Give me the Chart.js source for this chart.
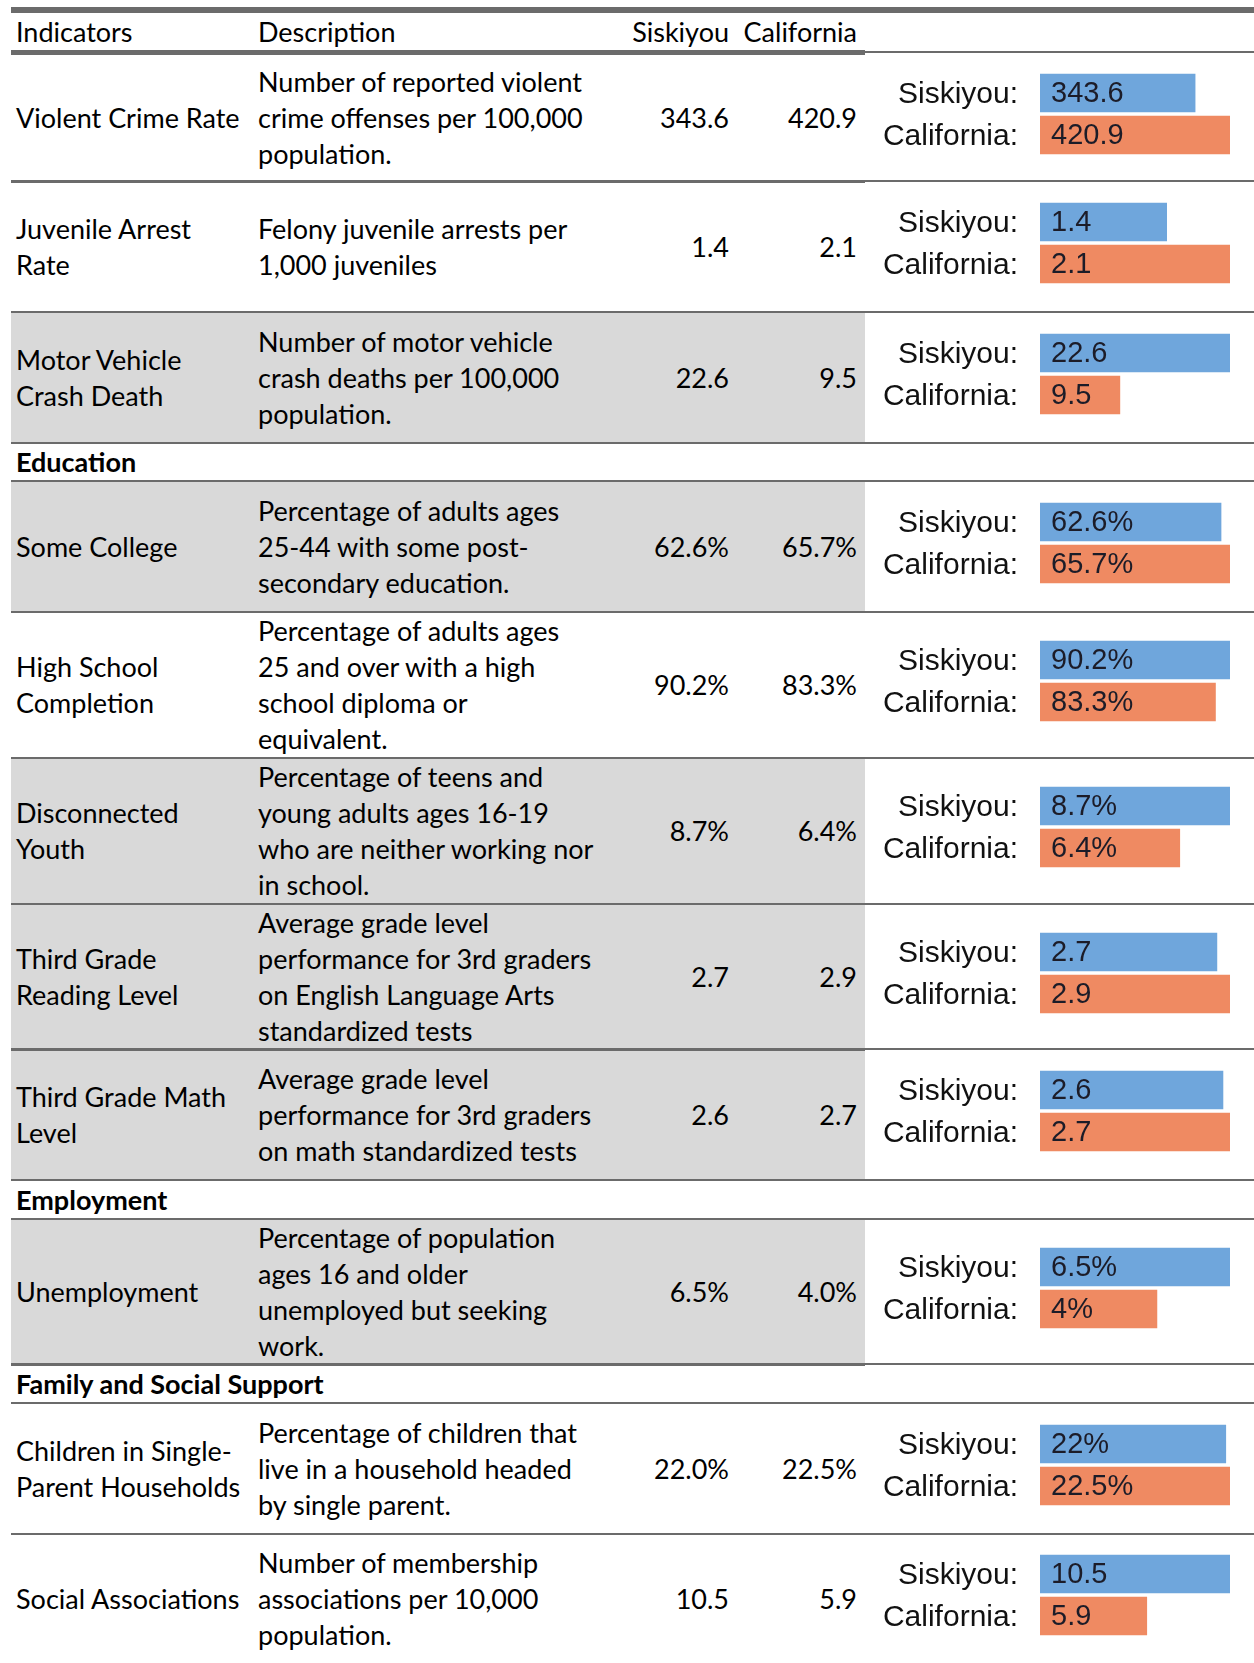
<!DOCTYPE html>
<html>
<head>
<meta charset="utf-8">
<script src="https://cdn.jsdelivr.net/npm/chart.js@4.4.0/dist/chart.umd.min.js"></script>
<style>
  html, body { margin: 0; padding: 0; background: #fff; }
  body { width: 1254px; height: 1663px; position: relative; overflow: hidden;
         font-family: Lato, "Liberation Sans", sans-serif; font-size: 27px; color: #000; }
  .cell { position: absolute; display: flex; flex-direction: column; justify-content: center;
          line-height: 36px; white-space: pre; }
  .num { text-align: right; }
  .line { position: absolute; background: #6b6b6b; }
  .shade { position: absolute; background: #d9d9d9; }
  canvas { position: absolute; }
</style>
</head>
<body>
<script>
// ---- data ----
const columnHeaders = ["Indicators", "Description", "Siskiyou", "California"];
const seriesLabels = ["Siskiyou:", "California:"];

const indicators = [
    "Violent Crime Rate",
    "Juvenile Arrest\nRate",
    "Motor Vehicle\nCrash Death",
    "Some College",
    "High School\nCompletion",
    "Disconnected\nYouth",
    "Third Grade\nReading Level",
    "Third Grade Math\nLevel",
    "Unemployment",
    "Children in Single-\nParent Households",
    "Social Associations"
];

const descriptions = [
    "Number of reported violent\ncrime offenses per 100,000\npopulation.",
    "Felony juvenile arrests per\n1,000 juveniles",
    "Number of motor vehicle\ncrash deaths per 100,000\npopulation.",
    "Percentage of adults ages\n25-44 with some post-\nsecondary education.",
    "Percentage of adults ages\n25 and over with a high\nschool diploma or\nequivalent.",
    "Percentage of teens and\nyoung adults ages 16-19\nwho are neither working nor\nin school.",
    "Average grade level\nperformance for 3rd graders\non English Language Arts\nstandardized tests",
    "Average grade level\nperformance for 3rd graders\non math standardized tests",
    "Percentage of population\nages 16 and older\nunemployed but seeking\nwork.",
    "Percentage of children that\nlive in a household headed\nby single parent.",
    "Number of membership\nassociations per 10,000\npopulation."
];

const siskiyouValues = [343.6, 1.4, 22.6, 62.6, 90.2, 8.7, 2.7, 2.6, 6.5, 22.0, 10.5];
const californiaValues = [420.9, 2.1, 9.5, 65.7, 83.3, 6.4, 2.9, 2.7, 4.0, 22.5, 5.9];
const valueUnits = ["", "", "", "%", "%", "%", "", "", "%", "%", ""];

const sectionTitles = ["Education", "Employment", "Family and Social Support"];
const sectionStarts = [3, 8, 9];

// ---- layout ----
const shadedRows = [2, 3, 5, 6, 7, 8];
// [top, bottom, line thickness] for each block in drawing order
const blocks = [
    [55, 180, 3], [183, 311, 2], [313, 442, 2], [444, 480, 2],
    [482, 611, 2], [613, 757, 2], [759, 903, 2], [905, 1048, 3],
    [1051, 1179, 2], [1181, 1218, 2], [1220, 1363, 3], [1366, 1402, 2],
    [1404, 1533, 2], [1535, 1663, 0]
];
const colLeft = 11, colDesc = 254, colSisk = 607, colCal = 736, colChart = 865, pageRight = 1254;

const blue = "#6fa6dc";
const orange = "#ef8a62";

function addDiv(cls, x, y, w, h, text) {
    const d = document.createElement("div");
    d.className = cls;
    d.style.left = x + "px";
    d.style.top = y + "px";
    d.style.width = w + "px";
    d.style.height = h + "px";
    if (text !== undefined) d.textContent = text;
    document.body.appendChild(d);
    return d;
}

function addLine(y, leftH, rightH) {
    if (leftH) addDiv("line", colLeft, y, colChart - colLeft, leftH);
    if (rightH) addDiv("line", colChart, y, pageRight - colChart, rightH);
}

const barValueLabels = {
    id: "barValueLabels",
    afterDatasetsDraw(chart) {
        const ctx = chart.ctx;
        const unit = chart.options.plugins.barValueLabels.unit;
        const meta = chart.getDatasetMeta(0);
        ctx.save();
        ctx.font = "29px 'Liberation Sans', Arial, sans-serif";
        ctx.fillStyle = "#1c1c28";
        ctx.textAlign = "left";
        ctx.textBaseline = "middle";
        meta.data.forEach((bar, j) => {
            const v = chart.data.datasets[0].data[j];
            ctx.fillText(String(v) + unit, bar.base + 11, bar.y + 1);
        });
        ctx.restore();
    }
};

function createRowChart(i, rowTop, rowBottom) {
    const canvas = document.createElement("canvas");
    const w = pageRight - colChart;
    const h = 174;
    const centre = (rowTop + rowBottom) / 2 - 4;
    canvas.width = w;
    canvas.height = h;
    canvas.style.width = w + "px";
    canvas.style.height = h + "px";
    canvas.style.left = colChart + "px";
    canvas.style.top = Math.round(centre - h / 2) + "px";
    document.body.appendChild(canvas);

    new Chart(canvas, {
        type: "bar",
        data: {
            labels: seriesLabels,
            datasets: [{
                data: [siskiyouValues[i], californiaValues[i]],
                backgroundColor: [blue, orange],
                barThickness: 38
            }]
        },
        options: {
            indexAxis: "y",
            responsive: false,
            animation: false,
            devicePixelRatio: 1,
            layout: { padding: { left: 0, right: 24, top: 45, bottom: 45 } },
            plugins: {
                legend: { display: false },
                tooltip: { enabled: false },
                barValueLabels: { unit: valueUnits[i] }
            },
            scales: {
                x: {
                    display: false,
                    min: 0,
                    max: Math.max(siskiyouValues[i], californiaValues[i])
                },
                y: {
                    grid: { display: false },
                    border: { display: false },
                    ticks: {
                        padding: 14,
                        labelOffset: 2,
                        color: "#111",
                        font: { family: "'Liberation Sans', Arial, sans-serif", size: 30 }
                    },
                    afterFit: axis => { axis.width = 175; }
                }
            }
        },
        plugins: [barValueLabels]
    });
}

function buildPage() {
    // header
    addLine(7, 6, 6);
    addDiv("cell", colLeft + 5, 13, 230, 37, columnHeaders[0]);
    addDiv("cell", colDesc + 4, 13, 340, 37, columnHeaders[1]);
    addDiv("cell num", colSisk, 13, colCal - colSisk - 7, 37, columnHeaders[2]);
    addDiv("cell num", colCal, 13, colChart - colCal - 8, 37, columnHeaders[3]);
    addLine(50, 5, 0);
    addDiv("line", colChart, 51, pageRight - colChart, 2);

    let b = 0;
    for (let i = 0; i < indicators.length; i++) {
        const s = sectionStarts.indexOf(i);
        if (s >= 0) {
            const [t, bt, lh] = blocks[b++];
            const d = addDiv("cell", colLeft + 5, t, 600, bt - t, sectionTitles[s]);
            d.style.fontWeight = "bold";
            addLine(bt, lh, lh ? 2 : 0);
        }
        const [top, bottom, lh] = blocks[b++];
        if (shadedRows.includes(i)) addDiv("shade", colLeft, top, colChart - colLeft, bottom - top);
        addDiv("cell", colLeft + 5, top, 238, bottom - top, indicators[i]);
        addDiv("cell", colDesc + 4, top, 349, bottom - top, descriptions[i]);
        addDiv("cell num", colSisk, top, colCal - colSisk - 7, bottom - top,
            siskiyouValues[i].toFixed(1) + valueUnits[i]);
        addDiv("cell num", colCal, top, colChart - colCal - 8, bottom - top,
            californiaValues[i].toFixed(1) + valueUnits[i]);
        if (lh) addLine(bottom, lh, 2);
        createRowChart(i, top, bottom);
    }
}

buildPage();
</script>
</body>
</html>
